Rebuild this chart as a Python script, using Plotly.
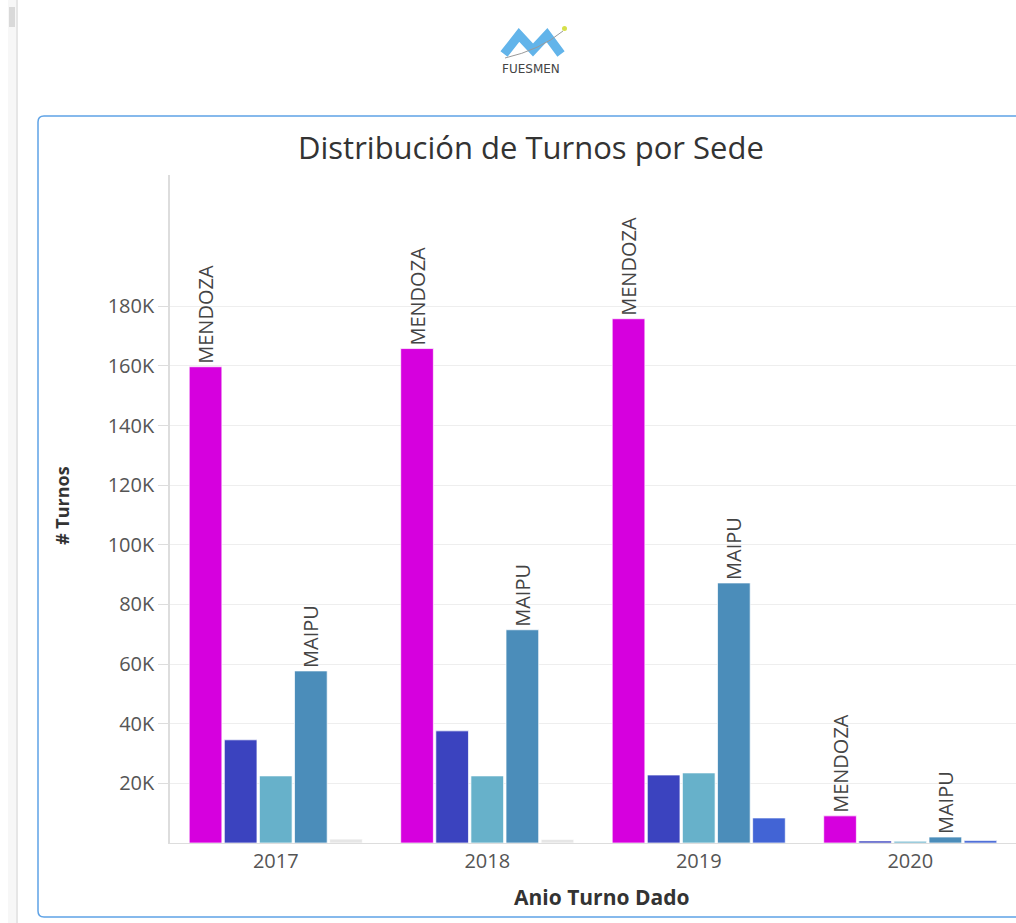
import plotly.graph_objects as go

# ---------------- data ----------------
years = ["2017", "2018", "2019", "2020"]
mendoza = [159700, 165800, 175800, 9100]
sede_2 = [34600, 37600, 22800, 700]
sede_3 = [22500, 22500, 23500, 600]
maipu = [57700, 71500, 87200, 2000]
sede_5 = [1300, 1200, 8400, 800]

series_names = ["MENDOZA", "SEDE 2", "SEDE 3", "MAIPU", "SEDE 5"]
series_values = [mendoza, sede_2, sede_3, maipu, sede_5]
series_colors = ["#d600de", "#3b43bf", "#67b1ca", "#4b8dba",
                 ["#e6e6e6", "#e6e6e6", "#4264d5", "#4264d5"]]
labelled = {"MENDOZA", "MAIPU"}

y_tickvals = [20000, 40000, 60000, 80000, 100000, 120000, 140000, 160000, 180000]
y_ticktext = ["20K", "40K", "60K", "80K", "100K", "120K", "140K", "160K", "180K"]

W, H = 1016, 923


def px(x):
    return x / W


def py(y):
    return 1 - y / H


fig = go.Figure()
for name, vals, col in zip(series_names, series_values, series_colors):
    fig.add_trace(go.Bar(
        x=years, y=vals, name=name,
        marker=dict(color=col, line=dict(color="rgba(255,255,255,0.7)", width=1)),
        text=[name] * len(vals) if name in labelled else None,
        textposition="outside" if name in labelled else "none",
        textangle=-90,
        constraintext="none",
        textfont=dict(family="Open Sans", size=20, color="#444"),
        cliponaxis=False,
        hoverinfo="x+y+name",
    ))

fig.update_layout(
    width=W, height=H,
    margin=dict(l=0, r=0, t=0, b=0),
    paper_bgcolor="white", plot_bgcolor="white",
    showlegend=False,
    barmode="group", bargap=0.17, bargroupgap=0.07,
    font=dict(family="Open Sans", color="#555"),
    xaxis=dict(domain=[px(170), 1.0], showline=True, linecolor="#dddddd",
               linewidth=1, ticks="", showgrid=False,
               tickfont=dict(size=20, color="#555")),
    yaxis=dict(domain=[py(843), py(175)], range=[0, 224000],
               tickvals=y_tickvals, ticktext=y_ticktext,
               showgrid=True, gridcolor="#eeeeee", zeroline=False,
               showline=True, linecolor="#dddddd", linewidth=1.5,
               ticks="outside", ticklen=10, tickcolor="#dddddd",
               tickfont=dict(size=20, color="#555")),
)

# title and axis titles
fig.add_annotation(text="Distribución de Turnos por Sede", xref="paper", yref="paper",
                   x=px(531), y=py(147), showarrow=False, xanchor="center", yanchor="middle",
                   font=dict(family="Open Sans", size=31, color="#333"))
fig.add_annotation(text="<b># Turnos</b>", xref="paper", yref="paper",
                   x=px(62), y=py(506), showarrow=False, textangle=-90,
                   xanchor="center", yanchor="middle",
                   font=dict(family="Open Sans", size=18, color="#333"))
fig.add_annotation(text="<b>Anio Turno Dado</b>", xref="paper", yref="paper",
                   x=px(601), y=py(897), showarrow=False,
                   xanchor="center", yanchor="middle",
                   font=dict(family="Open Sans", size=21, color="#333"))

# logo text
fig.add_annotation(text="FUESMEN", xref="paper", yref="paper",
                   x=px(531), y=py(69), showarrow=False,
                   xanchor="center", yanchor="middle",
                   font=dict(family="DejaVu Sans", size=12, color="#444"))

shapes = []
# left scrollbar strip
shapes.append(dict(type="rect", xref="paper", yref="paper",
                   x0=px(8), x1=px(17), y0=0, y1=1,
                   fillcolor="#f7f7f7", line=dict(width=0), layer="below"))
shapes.append(dict(type="line", xref="paper", yref="paper",
                   x0=px(17), x1=px(17), y0=0, y1=1,
                   line=dict(color="#e6e6e6", width=2)))
shapes.append(dict(type="rect", xref="paper", yref="paper",
                   x0=px(9), x1=px(15), y0=py(27), y1=py(7),
                   fillcolor="#d9d9d9", line=dict(width=0)))

# rounded box border
r = 6
L, T, B, R = 38, 116, 917, 1030
path = (f"M {px(R)},{py(T)} L {px(L + r)},{py(T)} "
        f"Q {px(L)},{py(T)} {px(L)},{py(T + r)} "
        f"L {px(L)},{py(B - r)} Q {px(L)},{py(B)} {px(L + r)},{py(B)} "
        f"L {px(R)},{py(B)}")
shapes.append(dict(type="path", xref="paper", yref="paper", path=path,
                   line=dict(color="#5fa3e6", width=1.5)))

# logo "M" mark
m_path = (f"M {px(504)},{py(54)} L {px(519)},{py(35)} L {px(533)},{py(50)} "
          f"L {px(547)},{py(35)} L {px(561)},{py(54)}")
shapes.append(dict(type="path", xref="paper", yref="paper", path=m_path,
                   line=dict(color="#62b4ea", width=9)))
swoosh = (f"M {px(505)},{py(58)} Q {px(540)},{py(50)} {px(563)},{py(31)}")
shapes.append(dict(type="path", xref="paper", yref="paper", path=swoosh,
                   line=dict(color="#9a9a9a", width=1)))
shapes.append(dict(type="circle", xref="paper", yref="paper",
                   x0=px(562), x1=px(567), y0=py(31), y1=py(26),
                   fillcolor="#d6e04a", line=dict(width=0)))
fig.update_layout(shapes=shapes)

fig.write_html("out.html", config={"displayModeBar": False},
               post_script="document.body.style.margin='0';document.body.style.overflow='hidden';")
